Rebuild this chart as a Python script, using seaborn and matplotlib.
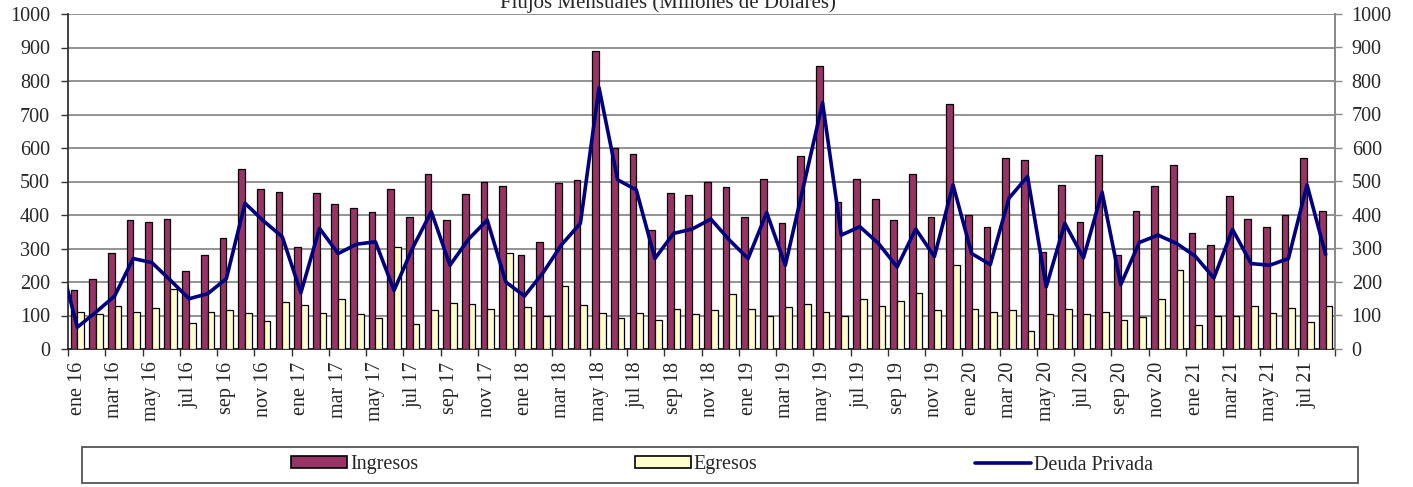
import numpy as np
import pandas as pd
import matplotlib
matplotlib.use("Agg")
import matplotlib.pyplot as plt
from matplotlib.patches import Rectangle
from matplotlib.lines import Line2D
import seaborn as sns

# Monthly flows, ene 2016 - ago 2021 (millions of dollars)
meses = ["ene", "feb", "mar", "abr", "may", "jun", "jul", "ago", "sep", "oct", "nov", "dic"]
anios = ["16", "17", "18", "19", "20", "21"]
periodos = [f"{m} {a}" for a in anios for m in meses][:68]

ingresos = [
    175, 210, 287, 385, 380, 388, 233, 282, 332, 537, 477, 468,
    303, 466, 433, 420, 408, 477, 393, 522, 384, 462, 500, 486,
    280, 319, 495, 505, 890, 600, 583, 355, 465, 461, 500, 485,
    393, 507, 376, 575, 845, 440, 508, 449, 384, 522, 394, 732,
    400, 363, 570, 565, 289, 489, 380, 578, 280, 413, 486, 550,
    347, 310, 458, 388, 363, 400, 570, 412,
]
egresos = [
    110, 104, 129, 110, 123, 180, 78, 110, 115, 107, 85, 140,
    131, 107, 148, 105, 93, 305, 76, 115, 137, 135, 120, 287,
    124, 100, 187, 131, 107, 93, 108, 87, 120, 105, 116, 165,
    120, 100, 124, 135, 110, 99, 149, 128, 142, 168, 116, 250,
    120, 111, 116, 55, 105, 120, 105, 111, 86, 97, 149, 237,
    73, 100, 100, 128, 108, 123, 82, 128,
]
deuda_privada = [
    65, 110, 158, 270, 258, 205, 150, 165, 210, 435, 382, 335,
    168, 360, 285, 313, 320, 175, 302, 410, 250, 328, 385, 200,
    158, 228, 312, 375, 780, 505, 475, 270, 345, 358, 388, 325,
    270, 407, 250, 492, 735, 340, 365, 315, 245, 358, 276, 490,
    285, 252, 450, 515, 185, 375, 272, 468, 192, 318, 340, 315,
    277, 212, 357, 255, 250, 270, 490, 282,
]
# dic 15 value, only its segment into ene 16 is visible
deuda_dic15 = 280

series_names = ["Ingresos", "Egresos"]
colores_barras = ["#993366", "#FFFFCC"]
color_linea = "#000080"

n = len(periodos)
df_bars = pd.DataFrame({
    "periodo": periodos * 2,
    "serie": ["Ingresos"] * n + ["Egresos"] * n,
    "valor": ingresos + egresos,
})
df_line = pd.DataFrame({
    "pos": np.arange(-1, n),
    "valor": [deuda_dic15] + deuda_privada,
})

sns.set_theme(style="white")
plt.rcParams["font.family"] = ["Liberation Serif", "DejaVu Serif"]

FS = 14.5
W, H = 1413, 487
fig = plt.figure(figsize=(W / 100, H / 100), dpi=100)
ax = fig.add_axes([68 / W, 1 - 349 / H, (1335 - 68) / W, (349 - 14) / H])

sns.barplot(data=df_bars, x="periodo", y="valor", hue="serie", order=periodos,
            hue_order=series_names, palette=colores_barras, width=0.72,
            edgecolor="black", linewidth=0.9, saturation=1, ax=ax, legend=False,
            zorder=3)
sns.lineplot(data=df_line, x="pos", y="valor", color=color_linea, linewidth=2.6,
             ax=ax, zorder=4)

ax.set_xlim(-0.5, n - 0.5)
ax.set_ylim(0, 1000)
ax.set_yticks(np.arange(0, 1001, 100))
ax.yaxis.grid(True, color="#8a8a8a", linewidth=1.3, zorder=0)
ax.set_axisbelow(True)
ax.set_xlabel("")
ax.set_ylabel("")

# category labels every other month, tick marks on boundaries
ax.set_xticks(np.arange(0, n, 2))
ax.set_xticklabels(periodos[::2], rotation=90, fontsize=FS)
ax.set_xticks(np.arange(-0.5, n, 2), minor=True)
ax.tick_params(axis="x", which="major", length=0, pad=9)
ax.tick_params(axis="x", which="minor", length=5, width=1, color="#333333", bottom=True)
ax.tick_params(axis="y", left=True, length=5, width=1, color="#333333", labelsize=FS, pad=8)

ax.spines["top"].set_visible(False)
ax.spines["left"].set_color("#333333")
ax.spines["left"].set_linewidth(1.3)
ax.spines["bottom"].set_color("#222222")
ax.spines["bottom"].set_linewidth(1.3)
ax.spines["right"].set_color("#8a8a8a")
ax.spines["right"].set_linewidth(1.3)

ax2 = ax.twinx()
ax2.set_ylim(0, 1000)
ax2.set_yticks(np.arange(0, 1001, 100))
ax2.tick_params(axis="y", right=True, length=5, width=1, color="#8a8a8a", labelsize=FS, pad=7)
for side in ["top", "left", "bottom"]:
    ax2.spines[side].set_visible(False)
ax2.spines["right"].set_color("#8a8a8a")
ax2.spines["right"].set_linewidth(1.3)
ax2.grid(False)

fig.text(668 / W, 1 - 8 / H, "Flujos Mensuales (Millones de Dolares)",
         ha="center", va="baseline", fontsize=15)

# legend box
fig.patches.append(Rectangle((82 / W, 1 - 483 / H), (1358 - 82) / W, 36 / H,
                             transform=fig.transFigure, facecolor="white",
                             edgecolor="#555555", linewidth=1.3))
handles = [
    Rectangle((0, 0), 1, 1, facecolor=colores_barras[0], edgecolor="black", linewidth=1.2),
    Rectangle((0, 0), 1, 1, facecolor=colores_barras[1], edgecolor="black", linewidth=1.2),
    Line2D([0], [0], color=color_linea, linewidth=2.6),
]
fig.legend(handles, ["Ingresos", "Egresos", "Deuda Privada"], loc="center",
           bbox_to_anchor=(722 / W, 1 - 465 / H), ncol=3, frameon=False,
           fontsize=FS, handlelength=2.75, handleheight=0.55, handletextpad=0.15,
           columnspacing=10.8)

fig.savefig("out.png", dpi=100)
